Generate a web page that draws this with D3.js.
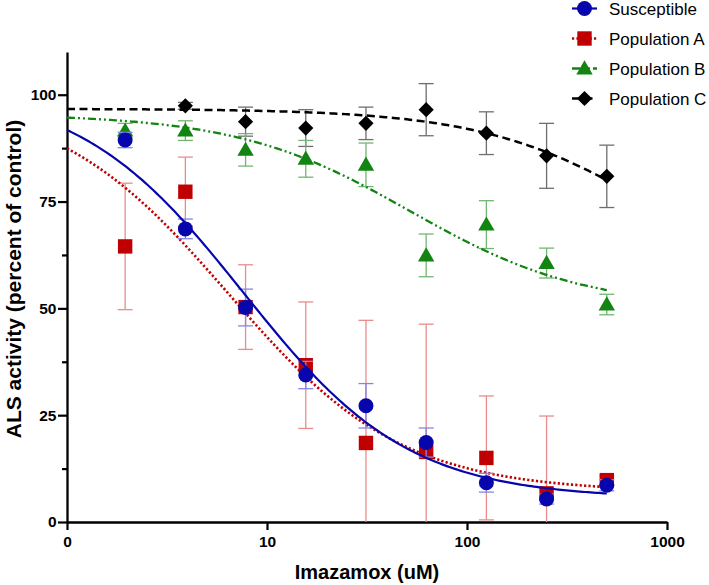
<!DOCTYPE html>
<html><head><meta charset="utf-8">
<script src="https://cdn.jsdelivr.net/npm/d3@7"></script>
<style>body{margin:0;background:#fff;} svg{display:block;}</style>
</head><body>
<script>
// ---- data ----
const doses = [1.953125, 3.90625, 7.8125, 15.625, 31.25, 62.5, 125, 250, 500];
const seriesNames = ["Susceptible", "Population A", "Population B", "Population C"];
const susceptibleMean = [89.4, 68.6, 50.2, 34.4, 27.2, 18.6, 9.2, 5.4, 8.6];
const susceptibleErr  = [1.8, 2.3, 4.3, 3.2, 5.2, 3.4, 2.2, 1.2, 1.3];
const popAMean = [64.5, 77.3, 50.3, 36.7, 18.5, 16.4, 15.0, 6.7, 9.8];
const popAErr  = [14.8, 8.1, 9.9, 14.8, 28.7, 29.9, 14.5, 18.1, 1.0];
const popBMean = [91.6, 91.6, 87.1, 85.0, 83.6, 62.4, 69.6, 60.6, 50.9];
const popBErr  = [1.7, 2.3, 3.8, 4.3, 5.1, 5.0, 5.6, 3.5, 2.4];
const popCMean = [null, 97.4, 93.7, 92.2, 93.3, 96.5, 91.0, 85.7, 80.9];
const popCErr  = [null, 0.8, 3.4, 4.3, 3.8, 6.1, 5.0, 7.6, 7.3];
// four-parameter logistic fit parameters (per series)
const fitTop    = [102, 100, 95.5, 96.7];
const fitBottom = [5.5, 7, 50, 50];
const fitEC50   = [7.6, 6.4, 52, 900];
const fitHill   = [1.05, 1.0, 1.0, 1.0];
const xTickValues = [1, 10, 100, 1000];
const xTickLabels = ["0", "10", "100", "1000"];
const yTickValues = [0, 25, 50, 75, 100];
const yMinorTicks = [12.5, 37.5, 62.5, 87.5];

// ---- styles ----
const colors    = ["#0606ac", "#c00000", "#128412", "#000000"];
const errColors = ["#8585e4", "#ea8c8c", "#72b572", "#6e6e6e"];
const dashes    = [null, "2.2,2.2", "8,3,2,3,2,3", "8,4.5"];
const lineW     = [2.2, 2.6, 2.3, 2.5];
const shapes    = ["circle", "square", "triangle", "diamond"];

const W = 709, H = 585;
const svg = d3.select("body").append("svg").attr("width", W).attr("height", H);
const x = d3.scaleLog().domain([1, 1000]).range([67, 667]);
const y = d3.scaleLinear().domain([0, 110]).range([522, 52]);
const font = "'Liberation Sans', Arial, Helvetica, sans-serif";

function shapePath(s) {
  if (s === "circle") { const r = 7.5; return `M${-r},0A${r},${r} 0 1,0 ${r},0A${r},${r} 0 1,0 ${-r},0Z`; }
  if (s === "square") { const h = 7.2; return `M${-h},${-h}H${h}V${h}H${-h}Z`; }
  if (s === "triangle") { return `M0,-8.2L8.2,6L-8.2,6Z`; }
  if (s === "diamond") { const h = 7.6; return `M0,${-h}L${h},0L0,${h}L${-h},0Z`; }
}

// ---- axes ----
const xAxis = d3.axisBottom(x).tickValues(xTickValues)
  .tickFormat((d, i) => xTickLabels[i]).tickSize(8).tickSizeOuter(0).tickPadding(6);
const gx = svg.append("g").attr("transform", `translate(0,${y(0)})`).call(xAxis);
const yAxis = d3.axisLeft(y).tickValues(yTickValues).tickSize(9).tickSizeOuter(0).tickPadding(1.5);
const gy = svg.append("g").attr("transform", `translate(${x(1)},0)`).call(yAxis);
const gyMinor = svg.append("g").attr("transform", `translate(${x(1)},0)`)
  .call(d3.axisLeft(y).tickValues(yMinorTicks).tickSize(5).tickSizeOuter(0).tickFormat(""));
gyMinor.select(".domain").remove();
[gx, gy, gyMinor].forEach(g => {
  g.selectAll("path.domain").attr("stroke", "#000").attr("stroke-width", 2.3);
  g.selectAll(".tick line").attr("stroke", "#000").attr("stroke-width", 2.2);
  g.selectAll(".tick text").attr("fill", "#000").style("font-family", font)
    .style("font-size", "15.5px").style("font-weight", "bold");
});

svg.append("text").attr("x", (x.range()[0] + x.range()[1]) / 2).attr("y", 579)
  .attr("text-anchor", "middle").style("font-family", font).style("font-size", "20px")
  .style("font-weight", "bold").text("Imazamox (uM)");
svg.append("text").attr("transform", "translate(20.5,279) rotate(-90)")
  .attr("text-anchor", "middle").style("font-family", font).style("font-size", "21px")
  .style("font-weight", "bold").text("ALS activity (percent of control)");

// ---- series ----
const means = [susceptibleMean, popAMean, popBMean, popCMean];
const errs = [susceptibleErr, popAErr, popBErr, popCErr];
const line = d3.line().x(d => x(d[0])).y(d => y(d[1]));
const capW = 7.5;

for (let s = 3; s >= 0; s--) {
  const g = svg.append("g");
  const pts = doses.map((d, i) => ({ d, m: means[s][i], e: errs[s][i] })).filter(p => p.m != null);
  // error bars
  const eg = g.append("g").attr("stroke", errColors[s]).attr("stroke-width", 1.3).attr("fill", "none");
  pts.forEach(p => {
    const top = p.m + p.e, bot = Math.max(0, p.m - p.e);
    const cx = x(p.d);
    eg.append("line").attr("x1", cx).attr("x2", cx).attr("y1", y(top)).attr("y2", y(bot));
    eg.append("line").attr("x1", cx - capW).attr("x2", cx + capW).attr("y1", y(top)).attr("y2", y(top));
    if (p.m - p.e >= 0)
      eg.append("line").attr("x1", cx - capW).attr("x2", cx + capW).attr("y1", y(bot)).attr("y2", y(bot));
  });
  // fitted curve
  const lx = d3.range(0, 201).map(k => Math.pow(10, Math.log10(doses[doses.length - 1]) * k / 200));
  const curve = lx.map(v => [v, fitBottom[s] + (fitTop[s] - fitBottom[s]) / (1 + Math.pow(v / fitEC50[s], fitHill[s]))]);
  g.append("path").datum(curve).attr("d", line).attr("fill", "none")
    .attr("stroke", colors[s]).attr("stroke-width", lineW[s])
    .attr("stroke-dasharray", dashes[s]);
  // markers
  g.selectAll("path.mk").data(pts).enter().append("path").attr("class", "mk")
    .attr("transform", p => `translate(${x(p.d)},${y(p.m)})`)
    .attr("d", shapePath(shapes[s])).attr("fill", colors[s]);
}

// ---- legend ----
const lg = svg.append("g");
seriesNames.forEach((name, i) => {
  const cy = 8.5 + i * 30;
  lg.append("line").attr("x1", 572).attr("x2", 597).attr("y1", cy).attr("y2", cy)
    .attr("stroke", colors[i]).attr("stroke-width", lineW[i]).attr("stroke-dasharray", dashes[i]);
  lg.append("path").attr("transform", `translate(584.5,${cy})`).attr("d", shapePath(shapes[i])).attr("fill", colors[i]);
  lg.append("text").attr("x", 609).attr("y", cy + 6.2).style("font-family", font)
    .style("font-size", "17px").attr("fill", "#000").text(name);
});
</script>
</body></html>
